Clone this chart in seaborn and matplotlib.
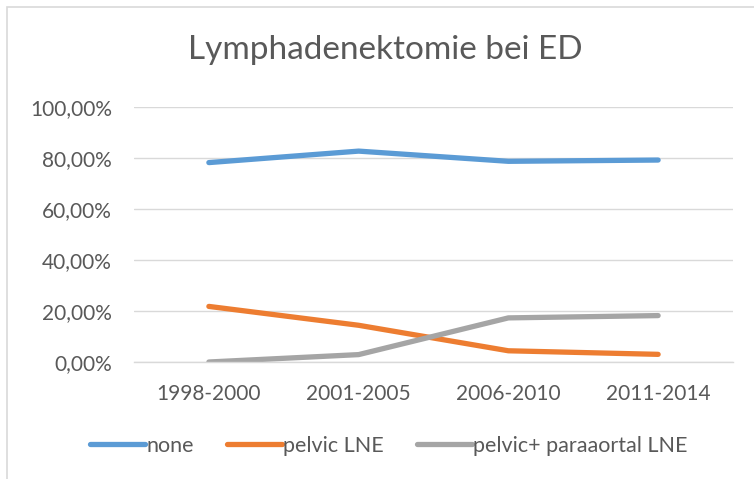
import matplotlib
matplotlib.use("Agg")
import matplotlib.pyplot as plt
import seaborn as sns
import pandas as pd
from matplotlib.ticker import FuncFormatter
from matplotlib.lines import Line2D
from matplotlib.patches import Rectangle

# ---- data ----
periods = ["1998-2000", "2001-2005", "2006-2010", "2011-2014"]
none_vals = [0.782, 0.827, 0.787, 0.792]
pelvic_vals = [0.218, 0.144, 0.044, 0.030]
paraaortal_vals = [0.000, 0.029, 0.173, 0.182]
series_names = ["none", "pelvic LNE", "pelvic+ paraaortal LNE"]
title_text = "Lymphadenektomie bei ED"

colors = ["#5B9BD5", "#ED7D31", "#A5A5A5"]

rows = []
for name, vals in zip(series_names, [none_vals, pelvic_vals, paraaortal_vals]):
    for p, v in zip(periods, vals):
        rows.append({"period": p, "value": v, "series": name})
df = pd.DataFrame(rows)

sns.set_style("white")
plt.rcParams["font.family"] = ["Lato", "DejaVu Sans"]

W, H = 754, 479
fig = plt.figure(figsize=(W / 100, H / 100), dpi=100)
ax = fig.add_axes([134 / W, (H - 362) / H, (733 - 134) / W, (362 - 107) / H])

sns.lineplot(data=df, x="period", y="value", hue="series", hue_order=series_names,
             palette=colors, linewidth=3.8, ax=ax, legend=False,
             solid_capstyle="round", sort=False)

ax.set_xlim(-0.5, 3.5)
ax.set_ylim(0, 1.0)
ax.set_yticks([0, 0.2, 0.4, 0.6, 0.8, 1.0])
ax.yaxis.set_major_formatter(FuncFormatter(lambda v, p: f"{v*100:.2f}%".replace(".", ",")))
ax.set_xlabel("")
ax.set_ylabel("")
ax.grid(axis="y", color="#D9D9D9", linewidth=1.0)
ax.set_axisbelow(True)
for s in ["top", "right", "left"]:
    ax.spines[s].set_visible(False)
ax.spines["bottom"].set_color("#D9D9D9")
ax.spines["bottom"].set_linewidth(1.0)
ax.tick_params(axis="both", length=0, labelsize=15, colors="#595959")
ax.tick_params(axis="y", pad=16)
ax.tick_params(axis="x", pad=16)

fig.text(385 / W, 1 - 50 / H, title_text, ha="center", va="center",
         fontsize=24, color="#595959")

handles = [Line2D([0], [0], color=c, lw=3.8, solid_capstyle="round") for c in colors]
fig.legend(handles, series_names, loc="center", bbox_to_anchor=(389 / W, 1 - 446 / H),
           ncol=3, frameon=False, fontsize=15.5, labelcolor="#595959",
           handlelength=2.55, handletextpad=0.05, columnspacing=1.55)

fig.patches.append(Rectangle((7 / W, -0.1), 2.0, 1 - 7 / H + 0.1, transform=fig.transFigure,
                             fill=False, edgecolor="#D9D9D9", linewidth=1.2))

fig.savefig("out.png", dpi=100, facecolor="white")
